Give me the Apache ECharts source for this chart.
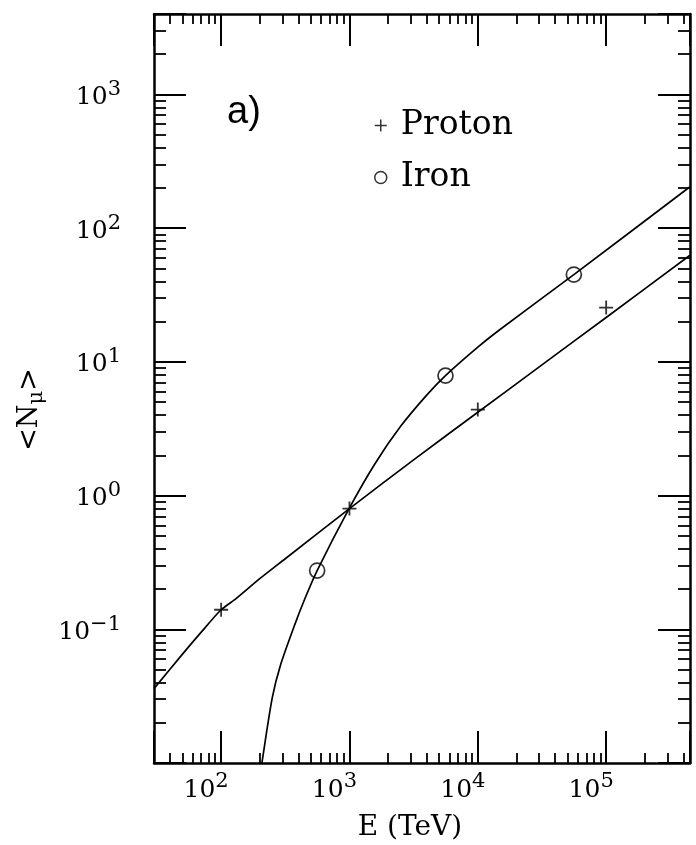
<!DOCTYPE html>
<html><head><meta charset="utf-8">
<script src="https://cdn.jsdelivr.net/npm/echarts@6/dist/echarts.min.js"></script>
<style>html,body{margin:0;padding:0;background:#fff}#c{width:696px;height:845px}</style>
</head><body><div id="c"></div>
<script>
// ---- data ----
const protonE = [100, 1000, 10000, 100000];
const protonN = [0.14, 0.80, 4.4, 25.5];
const ironE = [560, 5600, 56000];
const ironN = [0.275, 7.9, 45];
const protonFitE = [30, 50, 70, 100, 130, 200, 316, 1000, 3160, 10000, 31600, 100000, 450000];
const protonFitN = [0.036, 0.0652, 0.0953, 0.14, 0.169, 0.239, 0.337, 0.80, 1.85, 4.2, 9.5, 21.5, 62.7];
const ironFitE = [208, 250, 290, 373, 450, 560, 1000, 1585, 2512, 3981, 5600, 10000, 14800, 56000, 450000];
const ironFitN = [0.0100, 0.0306, 0.0539, 0.107, 0.17, 0.275, 0.809, 1.74, 3.31, 5.62, 7.9, 12.9, 17.4, 45, 204];
const xRange = [30, 450000];
const yRange = [0.01, 4000];
const xLabelValues = [100, 1000, 10000, 100000];
const yLabelValues = [0.1, 1, 10, 100, 1000];
const minorMultipliers = [2, 3, 4, 5, 6, 7, 8, 9];

const zip = (a, b) => a.map((v, i) => [v, b[i]]);
function minorTicks(range) {
  const out = [];
  for (let p = Math.floor(Math.log10(range[0])); p <= Math.ceil(Math.log10(range[1])); p++) {
    for (const m of minorMultipliers) {
      const v = m * Math.pow(10, p);
      if (v > range[0] && v < range[1]) out.push(Math.log10(v));
    }
  }
  return out;
}
function makeFmt(list) {
  return function (v) {
    for (const t of list) {
      if (Math.abs(Math.log10(v) - Math.log10(t)) < 1e-6) {
        const e = Math.round(Math.log10(t));
        return '{b|10}{s|' + (e < 0 ? '\u2212' + (-e) : e) + '}';
      }
    }
    return '';
  };
}
const SERIF = 'DejaVu Serif';
const plusPath = 'path://M0,6H12M6,0V12';
const frameLine = { onZero: false, lineStyle: { color: '#000', width: 2.5 } };
const majorTick = { inside: true, length: 32, lineStyle: { color: '#000', width: 2 } };
const noSplit = { show: false };

const xMinor = minorTicks(xRange);
const yMinor = minorTicks(yRange);
const lx = [Math.log10(xRange[0]), Math.log10(xRange[1])];
const ly = [Math.log10(yRange[0]), Math.log10(yRange[1])];

const chart = echarts.init(document.getElementById('c'), null, { renderer: 'canvas' });
chart.setOption({
  animation: false,
  backgroundColor: '#fff',
  title: { text: 'a)', left: 227, top: 94, padding: 0,
    textStyle: { fontFamily: 'Liberation Sans', fontSize: 38, fontWeight: 'normal', color: '#000' } },
  legend: {
    orient: 'vertical', left: 369, top: 104, itemWidth: 12, itemHeight: 12, itemGap: 19,
    selectedMode: false,
    data: [{ name: 'Proton', icon: plusPath }, { name: 'Iron', icon: 'circle' }],
    itemStyle: { color: 'transparent', borderColor: '#000', borderWidth: 1.5 },
    textStyle: { fontFamily: SERIF, fontSize: 33, color: '#000', padding: [0, 0, 0, 9] }
  },
  grid: { left: 154, right: 6, top: 14, bottom: 82, containLabel: false, outerBoundsMode: 'none' },
  xAxis: [
    { type: 'log', min: xRange[0], max: xRange[1], position: 'bottom',
      axisLine: frameLine, axisTick: majorTick, splitLine: noSplit,
      axisLabel: { margin: 8, formatter: makeFmt(xLabelValues),
        rich: { b: { fontFamily: SERIF, fontSize: 25, color: '#000', verticalAlign: 'bottom' },
                s: { fontFamily: SERIF, fontSize: 21, color: '#000', verticalAlign: 'bottom', padding: [0, 30, 11, 0] } } },
      name: 'E (TeV)', nameLocation: 'middle', nameGap: 51,
      nameTextStyle: { fontFamily: SERIF, fontSize: 28, color: '#000', padding: [0, 24, 0, 0] } },
    { type: 'log', min: xRange[0], max: xRange[1], position: 'top',
      axisLine: frameLine, axisTick: majorTick, splitLine: noSplit, axisLabel: { show: false } },
    { type: 'value', min: lx[0], max: lx[1], position: 'bottom',
      axisLine: { show: false, onZero: false }, splitLine: noSplit, axisLabel: { show: false },
      axisTick: { inside: true, length: 10, customValues: xMinor, lineStyle: { color: '#000', width: 1.8 } } },
    { type: 'value', min: lx[0], max: lx[1], position: 'top',
      axisLine: { show: false, onZero: false }, splitLine: noSplit, axisLabel: { show: false },
      axisTick: { inside: true, length: 10, customValues: xMinor, lineStyle: { color: '#000', width: 1.8 } } }
  ],
  yAxis: [
    { type: 'log', min: yRange[0], max: yRange[1], position: 'left',
      axisLine: frameLine, axisTick: majorTick, splitLine: noSplit,
      axisLabel: { margin: 33, formatter: makeFmt(yLabelValues),
        rich: { b: { fontFamily: SERIF, fontSize: 25, color: '#000', verticalAlign: 'bottom' },
                s: { fontFamily: SERIF, fontSize: 21, color: '#000', verticalAlign: 'bottom', padding: [0, 0, 10, 0] } } },
      name: '{b|<N}{s|\u03bc}{b|>}', nameLocation: 'middle', nameRotate: 90, nameGap: 104,
      nameTextStyle: { padding: [0, 42, 0, 0],
        rich: { b: { fontFamily: SERIF, fontSize: 27, color: '#000', verticalAlign: 'top' },
                s: { fontFamily: SERIF, fontSize: 21, color: '#000', verticalAlign: 'top', padding: [10, 0, 0, 0] } } } },
    { type: 'log', min: yRange[0], max: yRange[1], position: 'right',
      axisLine: frameLine, axisTick: majorTick, splitLine: noSplit, axisLabel: { show: false } },
    { type: 'value', min: ly[0], max: ly[1], position: 'left',
      axisLine: { show: false, onZero: false }, splitLine: noSplit, axisLabel: { show: false },
      axisTick: { inside: true, length: 12, customValues: yMinor, lineStyle: { color: '#000', width: 1.8 } } },
    { type: 'value', min: ly[0], max: ly[1], position: 'right',
      axisLine: { show: false, onZero: false }, splitLine: noSplit, axisLabel: { show: false },
      axisTick: { inside: true, length: 12, customValues: yMinor, lineStyle: { color: '#000', width: 1.8 } } }
  ],
  series: [
    { name: 'Proton fit', type: 'line', xAxisIndex: 0, yAxisIndex: 0, data: zip(protonFitE, protonFitN),
      showSymbol: false, smooth: 0.25, silent: true, lineStyle: { color: '#000', width: 1.7 } },
    { name: 'Iron fit', type: 'line', xAxisIndex: 0, yAxisIndex: 0, data: zip(ironFitE, ironFitN),
      showSymbol: false, smooth: 0.25, silent: true, lineStyle: { color: '#000', width: 1.7 } },
    { name: 'Proton', type: 'scatter', xAxisIndex: 0, yAxisIndex: 0, data: zip(protonE, protonN),
      symbol: plusPath, symbolSize: 14, z: 5,
      itemStyle: { color: 'transparent', borderColor: '#000', borderWidth: 1.8 } },
    { name: 'Iron', type: 'scatter', xAxisIndex: 0, yAxisIndex: 0, data: zip(ironE, ironN),
      symbol: 'circle', symbolSize: 15, z: 5,
      itemStyle: { color: 'transparent', borderColor: '#000', borderWidth: 1.7 } }
  ]
});
</script></body></html>
